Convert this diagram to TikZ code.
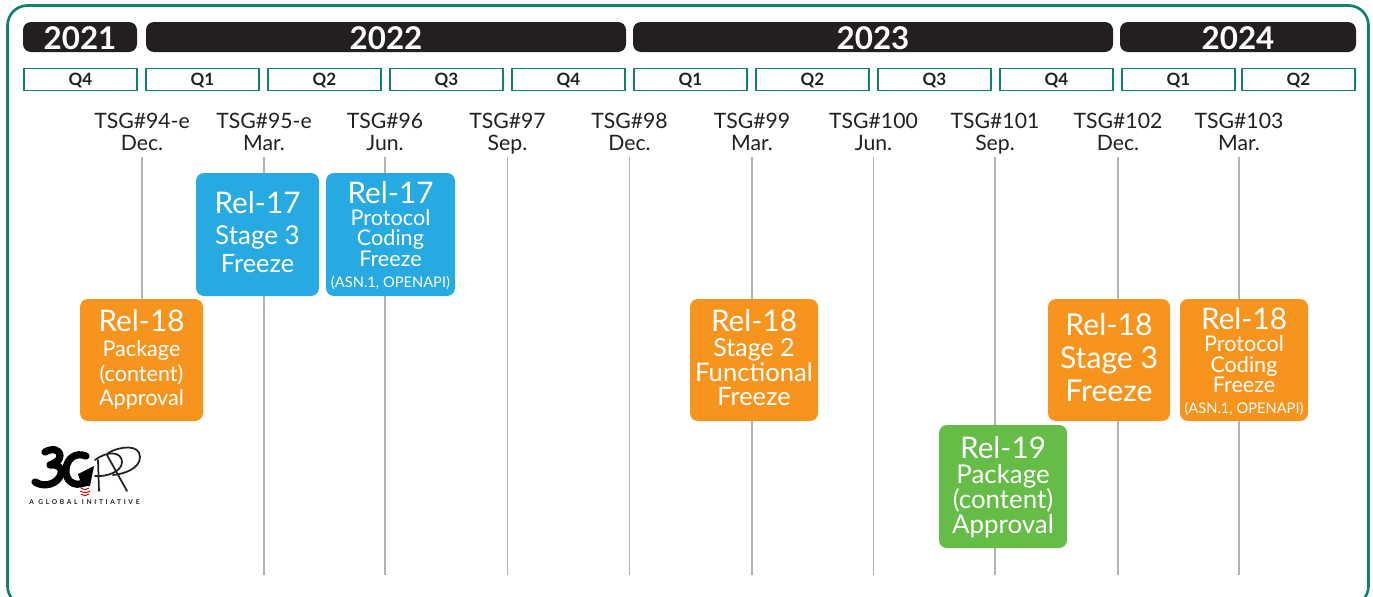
\documentclass[tikz,border=0pt]{standalone}
\usepackage{fontspec}
\setmainfont{Lato}
\definecolor{teal3}{HTML}{13806E}
\definecolor{ink}{HTML}{231F20}
\definecolor{blue3}{HTML}{27AAE1}
\definecolor{orange3}{HTML}{F7941E}
\definecolor{green3}{HTML}{65BC46}
\definecolor{rule3}{HTML}{B3B3B3}
\newcommand{\fs}[2]{\fontsize{#1}{#2}\selectfont}
\tikzset{
 yearbar/.style={fill=ink,draw=none,rounded corners=6pt,inner sep=0,text=white},
 qbox/.style={draw=teal3,fill=white,line width=0.9pt,inner sep=0,text=ink},
 tsglabel/.style={anchor=base,align=center,inner sep=0,text=ink,font=\fs{15.9}{16.5}},
 tsgline/.style={draw=rule3,line width=1.15pt},
 relbox/.style={rounded corners=6pt,draw=none,inner sep=0},
 reltext/.style={anchor=base,inner sep=0,text=white},
 logostroke/.style={draw=black,line width=5.4pt,line cap=round,line join=round},
 logothin/.style={draw=ink,line width=1.3pt,line cap=round},
}
\newcommand{\yearb}[4]{\node[yearbar,minimum width={(#3-#2)*0.75pt},minimum height=22.5pt] (#1) at ({(#2+#3)/2},37) {};
 \node[anchor=base,text=white,inner sep=0,font=\bfseries\fs{23.5}{23.5}] (#1t) at ({(#2+#3)/2},49) {#4};}
\newcommand{\qb}[4]{\node[qbox,minimum width={(#3-#2)*0.75pt},minimum height=17pt] (#1) at ({(#2+#3)/2},79.5) {};
 \node[anchor=base,text=ink,inner sep=0,font=\bfseries\fs{12.75}{12.75}] (#1t) at ({(#2+#3)/2},85) {#4};}
\newcommand{\tsg}[5]{\node[tsglabel] (#1) at (#2,150) {#3\\#4};
 \coordinate (#1e) at (#2,#5);
 \coordinate (#1s) at (#2,157);
 \draw[tsgline] (#1s) -- (#1e);}
\newcommand{\rb}[6]{\node[relbox,fill=#6,minimum width={(#4-#2)*0.75pt},minimum height={(#5-#3)*0.75pt}] (#1) at ({(#2+#4)/2},{(#3+#5)/2}) {};}
% one centred line of a milestone: distance from the previous baseline (px), size (pt), text
\newcommand{\rl}[3]{\kern#1\dimexpr0.75pt\relax\hbox to 92pt{\hss\smash{\fs{#2}{#2}#3}\hss}}
\newcommand{\rlines}[1]{\vbox{\offinterlineskip\hsize=92pt #1}}
\begin{document}
\begin{tikzpicture}[x=0.75pt,y=-0.75pt]
\useasboundingbox (0,0) rectangle (1373,596);
\draw[teal3,line width=2pt,rounded corners=15pt] (7.5,5.5) rectangle (1368.5,606);
% years
\yearb{y21}{23}{137}{2021}
\yearb{y22}{146}{626}{2022}
\yearb{y23}{633}{1113}{2023}
\yearb{y24}{1120}{1356}{2024}
% quarters
\qb{q1}{24}{137}{Q4}
\qb{q2}{146}{259}{Q1}
\qb{q3}{268}{381}{Q2}
\qb{q4}{390}{503}{Q3}
\qb{q5}{512}{625}{Q4}
\qb{q6}{634}{747}{Q1}
\qb{q7}{756}{869}{Q2}
\qb{q8}{878}{991}{Q3}
\qb{q9}{1000}{1113}{Q4}
\qb{q10}{1122}{1235}{Q1}
\qb{q11}{1242}{1355}{Q2}
% meetings
\tsg{t94}{142}{TSG\#94-e}{Dec.}{300}
\tsg{t95}{264}{TSG\#95-e}{Mar.}{575}
\tsg{t96}{385}{TSG\#96}{Jun.}{575}
\tsg{t97}{507.5}{TSG\#97}{Sep.}{575}
\tsg{t98}{629.5}{TSG\#98}{Dec.}{575}
\tsg{t99}{752}{TSG\#99}{Mar.}{575}
\tsg{t100}{873.5}{TSG\#100}{Jun.}{575}
\tsg{t101}{995}{TSG\#101}{Sep.}{575}
\tsg{t102}{1118}{TSG\#102}{Dec.}{575}
\tsg{t103}{1239}{TSG\#103}{Mar.}{575}
% milestones
\rb{a}{196}{173}{319}{296}{blue3}
\node[reltext] (at) at (257.5,272) {\rlines{\rl{0}{22.3}{Rel-17}\rl{31}{19.5}{Stage 3}\rl{28}{19}{Freeze}}};
\rb{b}{326}{173}{455}{296}{blue3}
\node[reltext] (bt) at (390.5,287) {\rlines{\rl{0}{22.3}{Rel-17}\rl{22}{16.2}{Protocol}\rl{20}{16.2}{Coding}\rl{21}{16.2}{Freeze}\rl{21}{11}{(ASN.1, OPENAPI)}}};
\rb{c}{80}{299}{203}{421}{orange3}
\node[reltext] (ct) at (141.5,405) {\rlines{\rl{0}{22.3}{Rel-18}\rl{25}{16.2}{Package}\rl{25}{16.2}{(content)}\rl{24}{16.2}{Approval}}};
\rb{d}{690}{299}{818}{421}{orange3}
\node[reltext] (dt) at (754,405) {\rlines{\rl{0}{22.3}{Rel-18}\rl{25}{18.7}{Stage 2}\rl{25}{19.2}{Functional}\rl{24}{19}{Freeze}}};
\rb{e}{1048}{299}{1170}{421}{orange3}
\node[reltext] (et) at (1109,401) {\rlines{\rl{0}{22.6}{Rel-18}\rl{33}{22.6}{Stage 3}\rl{33}{22.6}{Freeze}}};
\rb{f}{1180}{299}{1308}{421}{orange3}
\node[reltext] (ft) at (1244,413.5) {\rlines{\rl{0}{22.3}{Rel-18}\rl{22}{16.2}{Protocol}\rl{21}{16.2}{Coding}\rl{20}{16.2}{Freeze}\rl{21}{11}{(ASN.1, OPENAPI)}}};
\rb{g}{939}{425}{1067}{548}{green3}
\node[reltext] (gt) at (1003,533) {\rlines{\rl{0}{22.3}{Rel-19}\rl{25}{19.4}{Package}\rl{25}{19.4}{(content)}\rl{25}{19.4}{Approval}}};
% 3GPP logo
\draw[logostroke] (45,452) .. controls (52,448) and (60,449) .. (60,456) .. controls (60,461) and (54,463) .. (50,465)
  .. controls (58,464) and (63,468) .. (61,474) .. controls (58,484) and (44,488) .. (35,482);
\draw[logostroke] (86,456) .. controls (76,452) and (67,458) .. (66,469) .. controls (65,481) and (74,487) .. (84,483);
\fill[black] (78,474) -- (94,466) -- (90,486) -- (82,486) -- cycle;
\draw[logothin] (98,460) -- (99,491);
\draw[logothin] (95,460) .. controls (108,450) and (122,452) .. (122,462) .. controls (122,472) and (106,477) .. (95,476);
\draw[logothin] (107,455) -- (127,491);
\draw[logothin] (108,453) .. controls (120,446) and (140,444) .. (140,457) .. controls (140,468) and (125,474) .. (113,475);
\draw[red!80!black,line width=0.7pt] (81,488) .. controls (84,490) and (87,490) .. (89,488);
\draw[red!80!black,line width=0.7pt] (80,491) .. controls (84,493) and (87,493) .. (90,491);
\draw[red!80!black,line width=0.7pt] (81,494) .. controls (84,496) and (87,496) .. (89,494);
\node[anchor=base,inner sep=0,text=ink,font=\bfseries\fs{5}{5}\addfontfeature{LetterSpace=40}] (logotext) at (84.5,504) {A GLOBAL INITIATIVE};
\end{tikzpicture}
\end{document}
